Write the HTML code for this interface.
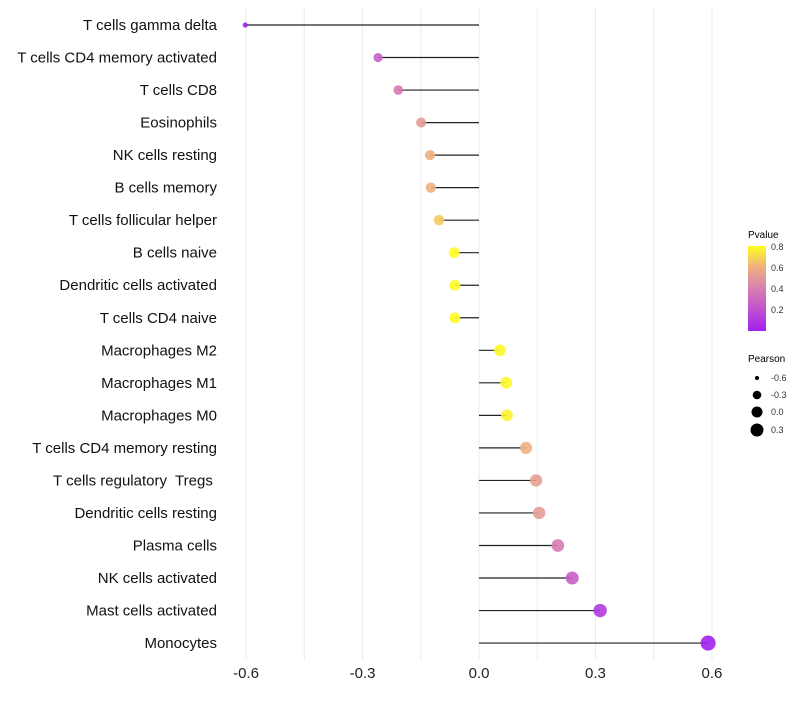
<!DOCTYPE html>
<html><head><meta charset="utf-8"><style>
body{margin:0;background:#fff;}
svg text{font-family:"Liberation Sans",sans-serif;}
</style></head><body>
<svg id="c" width="800" height="700" xmlns="http://www.w3.org/2000/svg">
<defs><linearGradient id="pg" x1="0" y1="1" x2="0" y2="0">
<stop offset="0" stop-color="#a31ff0"/><stop offset="0.25" stop-color="#c050d0"/><stop offset="0.5" stop-color="#d880b0"/><stop offset="0.75" stop-color="#eeb080"/><stop offset="1" stop-color="#ffff20"/></linearGradient></defs>
<g id="grid"></g><g id="marks"></g><g id="labels"></g>
<g>
<text x="748" y="238" font-size="10">Pvalue</text>
<rect x="748" y="246" width="18" height="85" fill="url(#pg)"/>
<g font-size="9" fill="#333">
<text x="771" y="250">0.8</text><text x="771" y="271">0.6</text><text x="771" y="292">0.4</text><text x="771" y="313">0.2</text>
</g>
<text x="748" y="362" font-size="10">Pearson</text>
<g font-size="9">
<circle cx="757" cy="378" r="2" fill="#000"/><text x="771" y="381" fill="#333">-0.6</text>
<circle cx="757" cy="395" r="4.3" fill="#000"/><text x="771" y="398" fill="#333">-0.3</text>
<circle cx="757" cy="412" r="5.5" fill="#000"/><text x="771" y="415" fill="#333">0.0</text>
<circle cx="757" cy="430" r="6.5" fill="#000"/><text x="771" y="433" fill="#333">0.3</text>
</g></g>
</svg>
<script>
const cells=["T cells gamma delta","T cells CD4 memory activated","T cells CD8","Eosinophils","NK cells resting","B cells memory","T cells follicular helper","B cells naive","Dendritic cells activated","T cells CD4 naive","Macrophages M2","Macrophages M1","Macrophages M0","T cells CD4 memory resting","T cells regulatory  Tregs ","Dendritic cells resting","Plasma cells","NK cells activated","Mast cells activated","Monocytes"];
const pearson=[-0.602,-0.26,-0.208,-0.149,-0.126,-0.124,-0.103,-0.064,-0.062,-0.062,0.054,0.07,0.072,0.121,0.147,0.155,0.203,0.24,0.312,0.59];
const pvalue=[0.005,0.27,0.38,0.52,0.6,0.6,0.67,0.79,0.79,0.79,0.78,0.78,0.77,0.6,0.53,0.52,0.38,0.27,0.12,0.005];
const ticks=[-0.6,-0.3,0,0.3,0.6];
const NS="http://www.w3.org/2000/svg";
const x=v=>479+v*388.3, y=i=>25+i*32.53;
function col(p){const s=[[0,[163,31,240]],[0.2,[192,80,208]],[0.4,[216,128,176]],[0.6,[238,176,128]],[0.8,[255,255,32]]];
p=Math.max(0,Math.min(0.8,p));for(let k=0;k<4;k++){const[a,ca]=s[k],[b,cb]=s[k+1];if(p<=b){const t=(p-a)/(b-a);return`rgb(${ca.map((c,j)=>Math.round(c+(cb[j]-c)*t)).join(",")})`;}}return"rgb(255,255,32)";}
function mk(t,at,parent){const e=document.createElementNS(NS,t);for(const k in at)e.setAttribute(k,at[k]);document.getElementById(parent).appendChild(e);return e;}
for(let v=-0.6;v<=0.601;v+=0.15){const g=mk("line",{x1:x(v),x2:x(v),y1:8,y2:660,stroke:"#ebebeb","stroke-width":1},"grid");

}
ticks.forEach(t=>{const e=mk("text",{x:x(t),y:678,"font-size":15,"text-anchor":"middle",fill:"#222"},"labels");e.textContent=t===0?"0.0":t.toFixed(1);

});
cells.forEach((c,i)=>{const t=mk("text",{x:217,y:y(i)+5,"font-size":15,"text-anchor":"end",fill:"#111"},"labels");t.textContent=c;
t.style.whiteSpace="pre";


const l=mk("line",{x1:x(0),x2:x(pearson[i]),y1:y(i),y2:y(i),stroke:"#222","stroke-width":1.2},"marks");


const r=Math.sqrt(Math.max(1,32+42*pearson[i]));
const d=mk("circle",{cx:x(pearson[i]),cy:y(i),r:r,fill:col(pvalue[i]),"fill-opacity":0.9},"marks");

});
</script>
</body></html>
